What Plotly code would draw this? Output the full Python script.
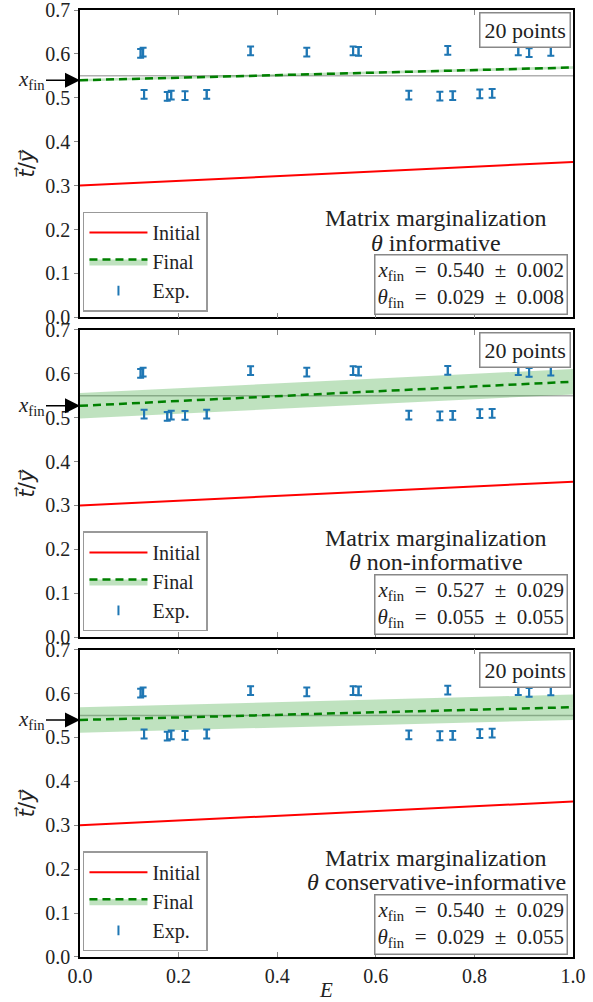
import plotly.graph_objects as go

# ---------------- data ----------------
E_exp = [0.123, 0.128, 0.130, 0.177, 0.185, 0.213, 0.257, 0.346, 0.460, 0.554,
         0.565, 0.667, 0.730, 0.746, 0.756, 0.811, 0.836, 0.889, 0.911, 0.955]
y_exp = [0.601, 0.604, 0.508, 0.503, 0.506, 0.505, 0.508, 0.607, 0.604, 0.607,
         0.606, 0.506, 0.504, 0.608, 0.505, 0.509, 0.510, 0.607, 0.603, 0.606]
err_exp = [0.010] * 20

E_line = [0.0, 1.0]
y_initial = [0.300, 0.354]
y_true = [0.550, 0.550]

x_fin = [0.540, 0.527, 0.540]
x_fin_err = [0.002, 0.029, 0.029]
theta_fin = [0.029, 0.055, 0.029]
theta_fin_err = [0.008, 0.055, 0.055]
band_half = [0.003, 0.029, 0.029]
prior_labels = ["θ informative", "θ non-informative", "θ conservative-informative"]

x_ticks = [0.0, 0.2, 0.4, 0.6, 0.8, 1.0]
y_ticks = [0.0, 0.1, 0.2, 0.3, 0.4, 0.5, 0.6, 0.7]

# ---------------- style ----------------
FONT = "Liberation Serif"
TXT = "#222222"
BLUE = "#1f77b4"
GREEN = "#008000"
BAND = "rgba(44,160,44,0.30)"
domains = [[0.6755, 1.0], [0.3378, 0.6622], [0.0, 0.3245]]
SP = "\u2002"  # wider math-like spacing

fig = go.Figure()

for i in range(3):
    xa = "x" if i == 0 else f"x{i+1}"
    ya = "y" if i == 0 else f"y{i+1}"
    leg = "legend" if i == 0 else f"legend{i+1}"
    centre = [x_fin[i] + theta_fin[i] * e for e in E_line]
    upper = [c + band_half[i] for c in centre]
    lower = [c - band_half[i] for c in centre]

    fig.add_trace(go.Scatter(x=E_line, y=y_true, mode="lines", xaxis=xa, yaxis=ya,
                             line=dict(color="#b0b0b0", width=1.5), showlegend=False,
                             hoverinfo="skip"))
    fig.add_trace(go.Scatter(x=E_line, y=upper, mode="lines", xaxis=xa, yaxis=ya,
                             line=dict(width=0, color=BAND), showlegend=False,
                             hoverinfo="skip"))
    fig.add_trace(go.Scatter(x=E_line, y=centre, mode="lines", xaxis=xa, yaxis=ya,
                             fill="tonexty", fillcolor=BAND,
                             line=dict(color=GREEN, width=2.5, dash="8px,5px"),
                             name="Final", legend=leg, legendrank=2))
    fig.add_trace(go.Scatter(x=E_line, y=lower, mode="lines", xaxis=xa, yaxis=ya,
                             fill="tonexty", fillcolor=BAND,
                             line=dict(width=0, color=BAND), showlegend=False,
                             hoverinfo="skip"))
    fig.add_trace(go.Scatter(x=E_line, y=y_initial, mode="lines", xaxis=xa, yaxis=ya,
                             line=dict(color="#ff0000", width=2),
                             name="Initial", legend=leg, legendrank=1))
    fig.add_trace(go.Scatter(x=E_exp, y=y_exp, mode="markers", xaxis=xa, yaxis=ya,
                             marker=dict(symbol="line-ns-open", size=7, color=BLUE,
                                         line=dict(color=BLUE, width=2)),
                             error_y=dict(type="data", array=err_exp, visible=True,
                                          color=BLUE, thickness=2, width=3.5),
                             name="Exp.", legend=leg, legendrank=3))

    common_x = dict(range=[0, 1], domain=[0, 1], anchor=ya, showline=True,
                    linecolor="black", linewidth=1.5, mirror="ticks",
                    ticks="inside", ticklen=5, tickcolor="#888888", tickwidth=1,
                    tickvals=x_ticks, tickformat=".1f", showgrid=False, zeroline=False,
                    tickfont=dict(family=FONT, size=20, color=TXT),
                    showticklabels=(i == 2), automargin=False,
                    ticklabeloverflow="allow")
    if i > 0:
        common_x["matches"] = "x"
    if i == 2:
        common_x["title"] = dict(text="<i>E</i>", font=dict(family=FONT, size=21, color=TXT),
                                 standoff=0)
    common_y = dict(range=[0, 0.7], domain=domains[i], anchor=xa, showline=True,
                    linecolor="black", linewidth=1.5, mirror=True,
                    ticks="outside", ticklen=4, tickcolor="#888888", tickwidth=1,
                    tickvals=y_ticks, tickformat=".1f", showgrid=False, zeroline=False,
                    tickfont=dict(family=FONT, size=20, color=TXT), automargin=False,
                    ticklabeloverflow="allow",
                    title=dict(text="<i>t⃗</i>/<i>y⃗</i>",
                               font=dict(family="DejaVu Sans", size=21, color=TXT),
                               standoff=5))
    fig.layout[("xaxis" if i == 0 else f"xaxis{i+1}")] = common_x
    fig.layout[("yaxis" if i == 0 else f"yaxis{i+1}")] = common_y
    # right-hand inside ticks
    fig.layout[f"yaxis{i+4}"] = dict(range=[0, 0.7], overlaying=ya, side="right",
                                     anchor=xa, ticks="inside", ticklen=4,
                                     tickcolor="#888888", tickvals=y_ticks,
                                     showticklabels=False, showgrid=False,
                                     zeroline=False, showline=False, automargin=False)

    legend_cfg = dict(x=0.006, xanchor="left", y=domains[i][0] + 0.006,
                      yanchor="bottom", bgcolor="white", bordercolor="#999999",
                      borderwidth=1.5, font=dict(family=FONT, size=20, color=TXT),
                      traceorder="normal", itemwidth=58, tracegroupgap=0)
    fig.layout[leg] = legend_cfg

    xd = f"{xa} domain"
    yd = f"{ya} domain"
    fig.add_annotation(xref=xd, yref=yd, x=0.996, y=0.993, xanchor="right", yanchor="top",
                       text="20 points", showarrow=False,
                       font=dict(family=FONT, size=22, color=TXT),
                       bordercolor="#888888", borderwidth=1.5, borderpad=4, bgcolor="white")
    fig.add_annotation(xref=xd, yref=yd, x=0.723, y=0.322, xanchor="center", yanchor="middle",
                       text="Matrix marginalization", showarrow=False,
                       font=dict(family=FONT, size=24, color=TXT))
    fig.add_annotation(xref=xd, yref=yd, x=0.723, y=0.243, xanchor="center", yanchor="middle",
                       text=prior_labels[i].replace("θ", "<i>θ</i>"), showarrow=False,
                       font=dict(family=FONT, size=24, color=TXT))
    fig.add_annotation(xref=xd, yref=yd, x=0.99, y=0.008, xanchor="right", yanchor="bottom",
                       text=(f"<i>x</i><sub>fin</sub>{SP}={SP}{x_fin[i]:.3f}{SP}±{SP}{x_fin_err[i]:.3f}<br>"
                             f"<i>θ</i><sub>fin</sub>{SP}={SP}{theta_fin[i]:.3f}{SP}±{SP}{theta_fin_err[i]:.3f}"),
                       showarrow=False, align="right",
                       font=dict(family=FONT, size=21, color=TXT),
                       bordercolor="#888888", borderwidth=1.5, borderpad=2, bgcolor="white")
    fig.add_annotation(xref=xa, yref=ya, x=0, y=x_fin[i], ax=-49, ay=0,
                       text="<i>x</i><sub>fin</sub>", showarrow=True,
                       arrowhead=2, arrowsize=2, arrowwidth=1.5, arrowcolor="black",
                       font=dict(family=FONT, size=21, color=TXT))

fig.update_layout(width=593, height=1002, margin=dict(l=80, r=20, t=10, b=45),
                  paper_bgcolor="white", plot_bgcolor="white", showlegend=True)

fig.write_html("out.html")
